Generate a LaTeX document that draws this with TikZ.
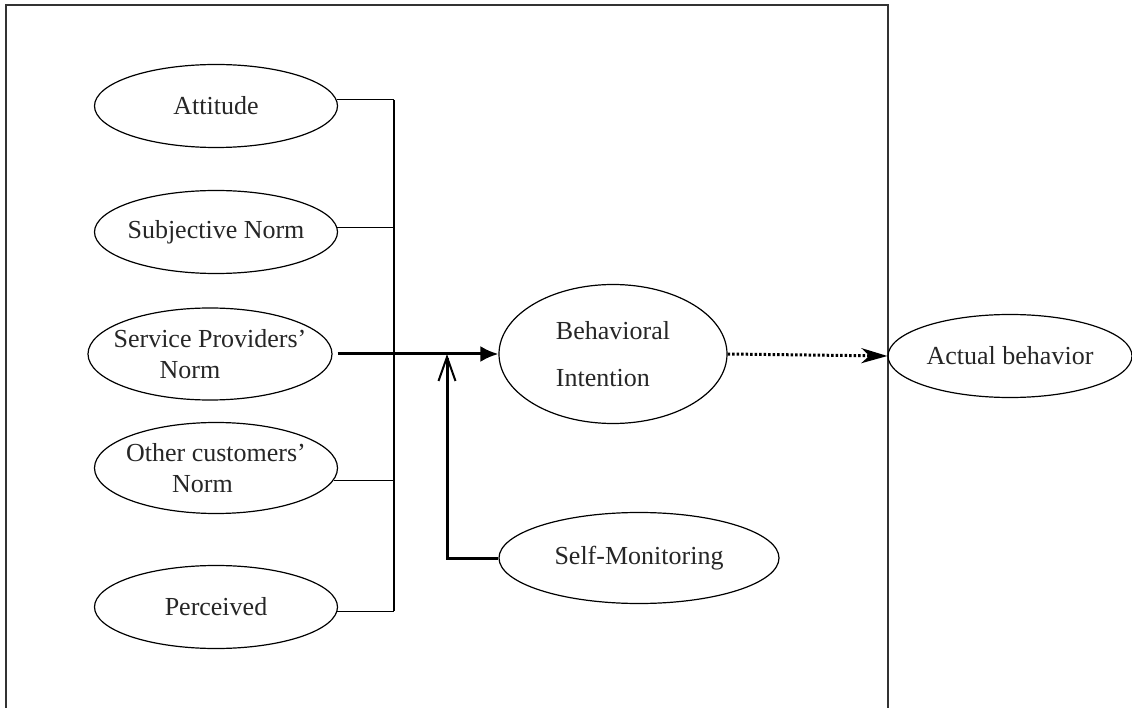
\documentclass[tikz,border=0pt]{standalone}
\usepackage{fontspec}
\setmainfont{Liberation Serif}
\usetikzlibrary{arrows.meta,shapes.geometric}

\begin{document}
\begin{tikzpicture}[x=1pt,y=-1pt,line width=1.2pt,
    construct/.style={draw,ellipse,inner ysep=0pt,inner xsep=-40pt,text=black!85,font=\fontsize{26}{31}\selectfont},
    bigarrow/.style={line width=3pt,-{Latex[length=18pt,width=16pt]}},
    modarrow/.style={line width=3pt,-{Straight Barb[length=24pt,width=17pt,line width=2pt]}},
    outarrow/.style={line width=3pt,dash pattern=on 2.5pt off 2pt,-{Stealth[length=26pt,width=15pt,inset=8pt]}}]
  \useasboundingbox (0,0) rectangle (1132,708);
  \draw[black!80] (6,708) -- (6,5) -- (888,5) -- (888,708);
  \node[construct,minimum width=243pt,minimum height=83pt] (att) at (216,106) {Attitude};
  \node[construct,minimum width=243pt,minimum height=83pt] (sn) at (216,232) {Subjective Norm};
  \node[construct,minimum width=244pt,minimum height=92pt,align=left] (sp) at (210,354) {Service Providers'\\\hspace*{46pt}Norm};
  \node[construct,minimum width=243pt,minimum height=91pt,align=left] (oc) at (216,468) {Other customers'\\\hspace*{46pt}Norm};
  \node[construct,minimum width=243pt,minimum height=83pt] (perc) at (216,607) {Perceived};
  \node[construct,minimum width=228pt,minimum height=139pt,align=left] (bi) at (613,354) {Behavioral\\[16pt]Intention};
  \node[construct,minimum width=280pt,minimum height=91pt] (sm) at (639,558) {Self-Monitoring};
  \node[construct,minimum width=244pt,minimum height=83pt] (ab) at (1010,356) {Actual behavior};
  \coordinate (bus) at (394,0);
  \coordinate (join) at (447,354);
  \draw (att.3) -- (att.3 -| bus);
  \draw (sn.2) -- (sn.2 -| bus);
  \draw (oc.-6) -- (oc.-6 -| bus);
  \draw (perc.-2.5) -- (perc.-2.5 -| bus);
  \draw (att.3 -| bus) -- (perc.-2.5 -| bus);
  \draw[bigarrow] ([xshift=5pt]sp.east) -- (bi.west);
  \draw[modarrow] (sm.west) -| (join);
  \draw[outarrow] (bi.east) -- (ab.west);
\end{tikzpicture}
\end{document}
